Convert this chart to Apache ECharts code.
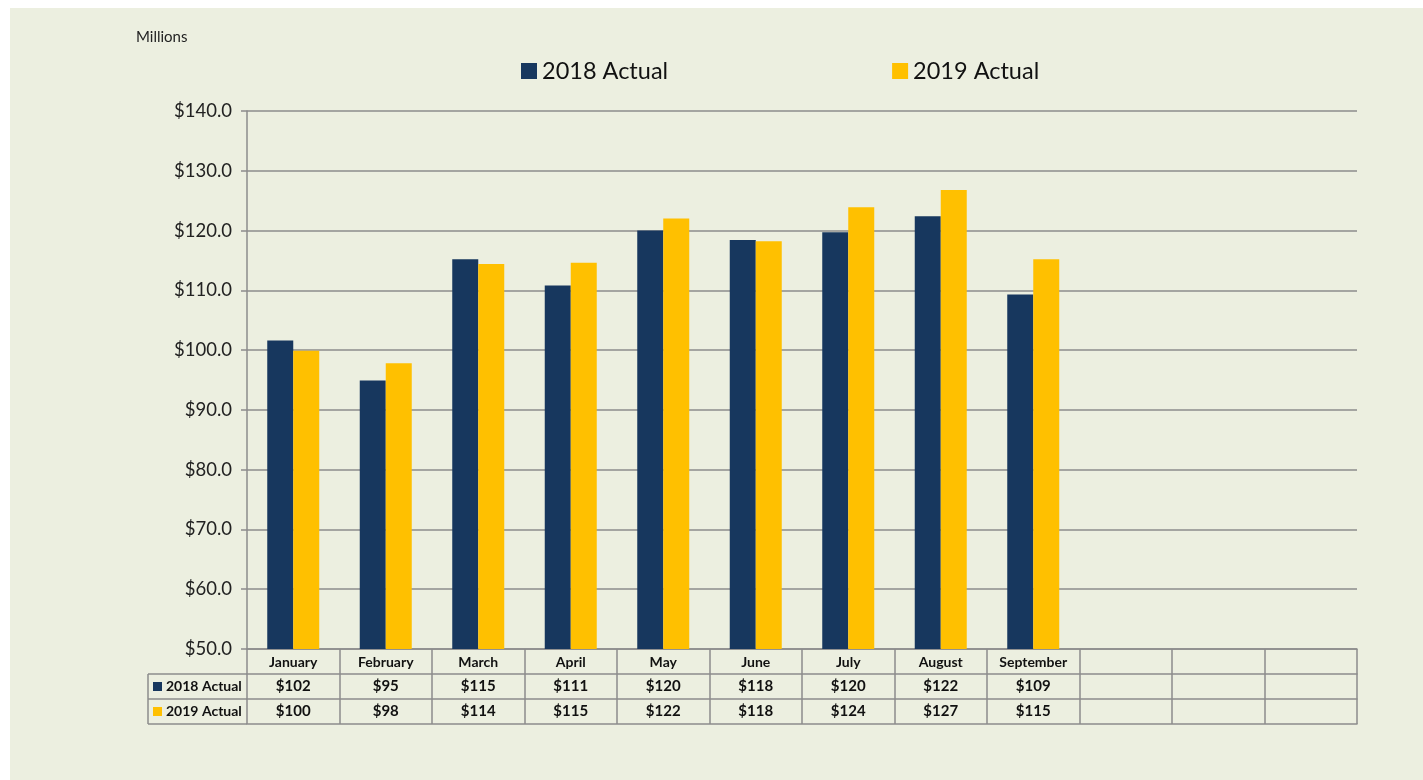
<!DOCTYPE html>
<html>
<head>
<meta charset="utf-8">
<script src="https://cdn.jsdelivr.net/npm/echarts@6/dist/echarts.min.js"></script>
<style>
  html, body { margin: 0; padding: 0; background: #ffffff; }
  #chart { position: absolute; left: 10px; top: 8px; width: 1413px; height: 772px; }
</style>
</head>
<body>
<div id="chart"></div>
<script>
const months = ['January', 'February', 'March', 'April', 'May', 'June', 'July', 'August', 'September', 'October', 'November', 'December']
const actual2018 = [101.6, 94.9, 115.2, 110.8, 120.0, 118.4, 119.7, 122.4, 109.3, null, null, null]
const actual2019 = [99.9, 97.8, 114.4, 114.6, 122.0, 118.2, 123.9, 126.8, 115.2, null, null, null]
const seriesNames = ['2018 Actual', '2019 Actual']
const colors = ['#17375E', '#FFC000']

const fontFamily = 'Lato, "Open Sans", sans-serif'
const lineColor = '#8c8c8c'

// grid box (px inside the chart div)
const gridLeft = 237
const gridTop = 103
const gridRight = 66
const gridBottom = 131
const rowH = 25
const headLeft = 138

const money = v => (v == null ? '' : '$' + Math.round(v))

const chart = echarts.init(document.getElementById('chart'))

const axisBottom = 772 - gridBottom

const option = {
  backgroundColor: '#ECEFE0',
  textStyle: { fontFamily },
  legend: {
    data: seriesNames,
    left: 506,
    top: 46,
    itemWidth: 16,
    itemHeight: 16,
    itemGap: 224,
    icon: 'rect',
    textStyle: { fontSize: 23.5, color: '#111', fontFamily }
  },
  grid: { left: gridLeft, top: gridTop, right: gridRight, bottom: gridBottom },
  xAxis: [
    {
      type: 'category',
      data: months,
      axisLine: { lineStyle: { color: lineColor, width: 1.5 } },
      axisTick: { show: true, interval: 0, length: rowH * 3, lineStyle: { color: lineColor, width: 1.5 } },
      axisLabel: {
        interval: 0,
        margin: 6,
        fontSize: 14,
        fontWeight: 'bold',
        color: '#111',
        formatter: (v, i) => (i < 9 ? v : '')
      }
    },
    {
      type: 'category',
      data: actual2018.map(money),
      position: 'bottom',
      offset: rowH,
      axisLine: { lineStyle: { color: lineColor, width: 1.5 } },
      axisTick: { show: false },
      axisLabel: { interval: 0, margin: 5, fontSize: 15, fontWeight: 'bold', color: '#111' }
    },
    {
      type: 'category',
      data: actual2019.map(money),
      position: 'bottom',
      offset: rowH * 2,
      axisLine: { lineStyle: { color: lineColor, width: 1.5 } },
      axisTick: { show: false },
      axisLabel: { interval: 0, margin: 5, fontSize: 15, fontWeight: 'bold', color: '#111' }
    },
    {
      type: 'category',
      data: months,
      position: 'bottom',
      offset: rowH * 3,
      axisLine: { lineStyle: { color: lineColor, width: 1.5 } },
      axisTick: { show: false },
      axisLabel: { show: false }
    }
  ],
  yAxis: {
    type: 'value',
    min: 50,
    max: 140,
    interval: 10,
    axisLine: { show: true, lineStyle: { color: lineColor, width: 1.5 } },
    axisTick: { show: true, length: 6, lineStyle: { color: lineColor, width: 1.5 } },
    splitLine: { lineStyle: { color: lineColor, width: 1.5 } },
    axisLabel: {
      margin: 15,
      fontSize: 18.5,
      color: '#222',
      formatter: v => '$' + v.toFixed(1)
    }
  },
  series: [
    {
      name: seriesNames[0],
      type: 'bar',
      data: actual2018,
      barWidth: 26,
      barGap: '0%',
      itemStyle: { color: colors[0] }
    },
    {
      name: seriesNames[1],
      type: 'bar',
      data: actual2019,
      barWidth: 26,
      itemStyle: { color: colors[1] }
    }
  ],
  graphic: [
    {
      type: 'text',
      left: 126,
      top: 22,
      style: { text: 'Millions', fontSize: 15, fill: '#222', fontFamily }
    },
    // row header cells of the data table
    ...[1, 2, 3].map(r => ({
      type: 'line',
      shape: { x1: headLeft, y1: axisBottom + rowH * r, x2: gridLeft, y2: axisBottom + rowH * r },
      style: { stroke: lineColor, lineWidth: 1.5 }
    })),
    {
      type: 'line',
      shape: { x1: headLeft, y1: axisBottom + rowH, x2: headLeft, y2: axisBottom + rowH * 3 },
      style: { stroke: lineColor, lineWidth: 1.5 }
    },
    ...seriesNames.flatMap((name, i) => [
      {
        type: 'rect',
        shape: { x: headLeft + 5, y: axisBottom + rowH * (i + 1) + 8, width: 9, height: 9 },
        style: { fill: colors[i] }
      },
      {
        type: 'text',
        x: headLeft + 18,
        y: axisBottom + rowH * (i + 1) + 12.5,
        style: { text: name, fontSize: 14, fontWeight: 'bold', fill: '#111', fontFamily, verticalAlign: 'middle' }
      }
    ])
  ]
}

chart.setOption(option)
window.addEventListener('resize', () => chart.resize())
</script>
</body>
</html>
